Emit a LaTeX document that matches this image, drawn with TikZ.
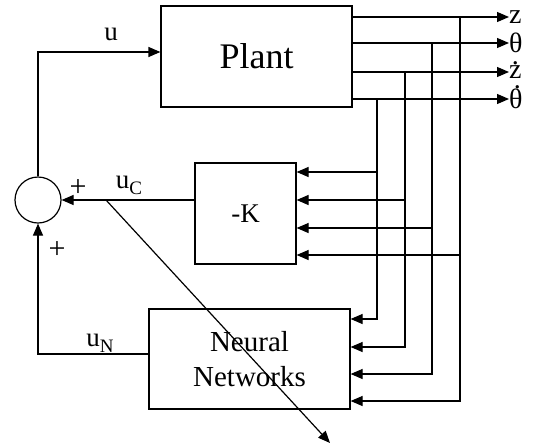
\documentclass[tikz,border=0pt]{standalone}
\usepackage{fontspec}
\setmainfont{Liberation Serif}
\usetikzlibrary{arrows.meta}
\tikzset{
    loop diagram/.style = {x=1pt, y=-1pt,
                           >={Triangle[length=12pt, width=10pt]}},
    line/.style         = {line width=1.2pt},
    block/.style        = {draw, line width=1.2pt, inner sep=0pt},
    sum/.style          = {draw, line width=1.2pt, circle,
                           minimum size=46pt, inner sep=0pt},
    sig/.style          = {font=\fontsize{27}{28}\selectfont, inner sep=0pt},
    state/.style        = {font=\fontsize{28}{28}\selectfont, inner sep=0pt},
    pm/.style           = {font=\fontsize{30}{30}\selectfont, inner sep=0pt}
}
% dot placed over a letter (time derivative)
\newcommand\topdot[2][0pt]{{\setbox0=\hbox{#2}%
    \makebox[\wd0]{\hspace*{#1}\raisebox{\dimexpr\ht0+1pt\relax}[0pt][0pt]{.}}%
    \kern-\wd0\box0}}
\newcommand\sigsub[1]{\raisebox{-6pt}{\fontsize{19}{20}\selectfont #1}}

\begin{document}
\begin{tikzpicture}[loop diagram]
\useasboundingbox (0,0) rectangle (537,447);

% Plant, state feedback gain and neural controller.
\node[block, minimum width=191pt, minimum height=101pt,
      font=\fontsize{36}{40}\selectfont] (plant) at (256.5,56.5) {Plant};
\node[block, minimum width=101pt, minimum height=101pt,
      font=\fontsize{27}{28}\selectfont] (gain) at (245.5,213.5) {-K};
\node[block, minimum width=201pt, minimum height=100pt, align=center,
      font=\fontsize{29}{35}\selectfont] (nn) at (249.5,359)
    {Neural\\Networks};
\node[sum] (sum) at (38,200) {};

% Measured states, tapped down to both controllers.
\foreach \name/\yy/\lab/\tx/\gy/\ny in
    {z/17/z/460/255/401, th/43/θ/432/228/374,
     zd/72/\topdot{z}/405/200/347, thd/99/\topdot[3pt]{θ}/377/172/319} {
    \node[state, anchor=west] (out-\name) at (509,\yy) {\lab};
    \draw[->, line] (plant.east |- 0,\yy) -- (out-\name.west);
    \coordinate (tap-\name) at (\tx,\yy);
    \draw[->, line] (tap-\name) |- (nn.east |- 0,\ny);
    \draw[->, line] (tap-\name |- 0,\gy) -- (gain.east |- 0,\gy);
}

% Control signals summed into the plant input.
\draw[->, line] (sum.north) |- (plant.west |- 0,52);
\node[sig] (u-lab) at (111,34) {u};
\draw[->, line] (gain.west |- 0,200) -- (sum.east);
\node[sig] (uc-lab) at (129,185) {u\sigsub{C}};
\node[pm] at (78,188) {+};
\draw[->, line] (nn.west |- 0,354) -| (sum.south);
\node[sig] (un-lab) at (100,343) {u\sigsub{N}};
\node[pm] at (57,250) {+};

% Training signal taken from the gain output.
\coordinate (pick) at (106,200);
\coordinate (adapt) at (330,443);
\draw[->, line] (pick) -- (adapt);

\end{tikzpicture}
\end{document}
